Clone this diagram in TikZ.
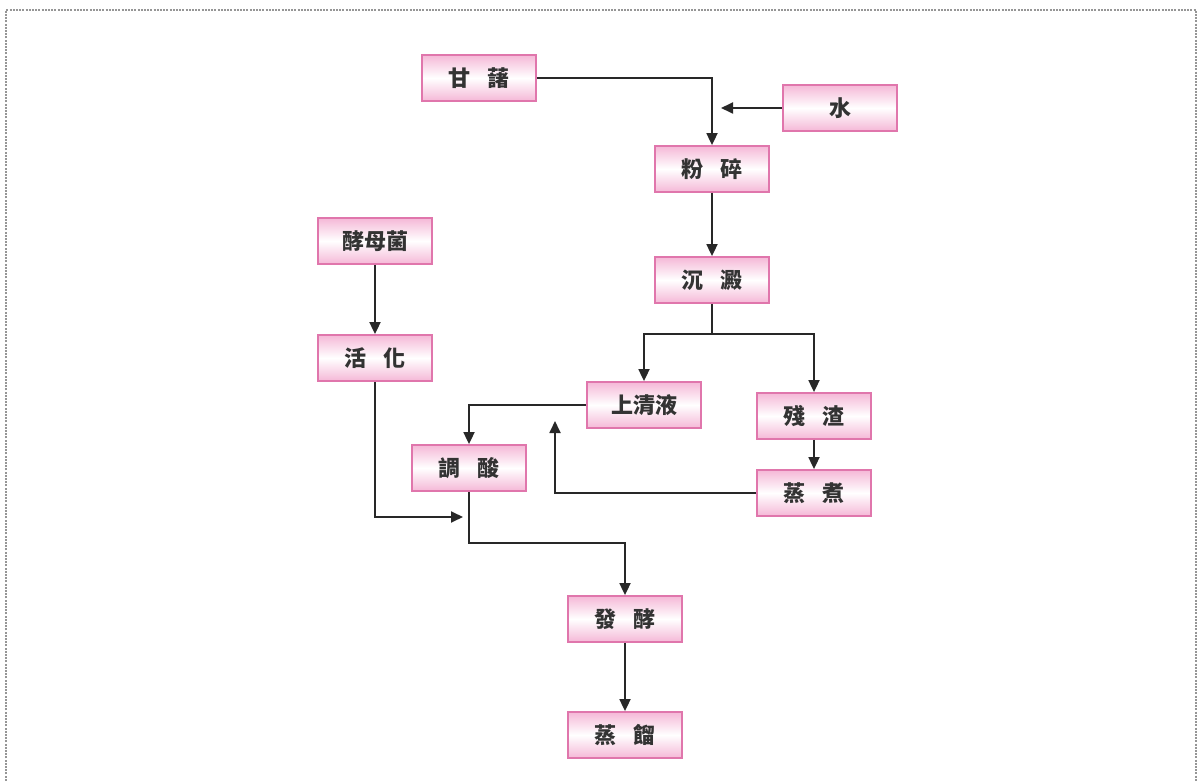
\documentclass[tikz,border=0pt]{standalone}
\usepackage{fontspec}
\newfontfamily\cjk{Noto Sans CJK TC}
\usetikzlibrary{arrows.meta}
\definecolor{boxedge}{RGB}{224,118,172}
\definecolor{boxpink}{RGB}{245,184,215}
\definecolor{linecol}{RGB}{40,40,40}
\definecolor{framecol}{RGB}{150,150,150}
\tikzset{
  procbox/.style={draw=boxedge, line width=1.8pt, top color=boxpink, bottom color=boxpink, middle color=white,
    minimum width=114pt, minimum height=46pt, inner sep=0pt, font=\cjk\bfseries\fontsize{22}{24}\selectfont, text=black!80},
  conn/.style={draw=linecol, line width=1.8pt, -{Triangle[length=12pt,width=11pt]}},
  plain/.style={draw=linecol, line width=1.8pt},
}
\begin{document}
\begin{tikzpicture}[x=1pt,y=-1pt]
\useasboundingbox (0,0) rectangle (1203,781);
\fill[white] (0,0) rectangle (1203,781);
\draw[framecol, line width=1.8pt, dash pattern=on 2pt off 1.2pt] (6,800) -- (6,10) -- (1196,10) -- (1196,800);

\node[procbox] (gs) at (479,78) {甘\hspace{0.8em}藷};
\node[procbox] (water) at (840,108) {水};
\node[procbox] (fs) at (712,169) {粉\hspace{0.8em}碎};
\node[procbox] (cd) at (712,280) {沉\hspace{0.8em}澱};
\node[procbox] (jm) at (375,241) {酵母菌};
\node[procbox] (hh) at (375,358) {活\hspace{0.8em}化};
\node[procbox] (sq) at (644,405) {上清液};
\node[procbox] (cz) at (814,416) {殘\hspace{0.8em}渣};
\node[procbox] (tj) at (469,468) {調\hspace{0.8em}酸};
\node[procbox] (zz) at (814,493) {蒸\hspace{0.8em}煮};
\node[procbox] (fj) at (625,619) {發\hspace{0.8em}酵};
\node[procbox] (zl) at (625,735) {蒸\hspace{0.8em}餾};

\coordinate (wend) at (721,108);
\coordinate (split) at (712,334);
\coordinate (upend) at (555,421);
\coordinate (hhend) at (463,517);
\coordinate (tjturn) at (469,543);

\draw[conn] (gs.east) -| (fs.north);
\draw[conn] (water.west) -- (wend);
\draw[conn] (fs.south) -- (cd.north);
\draw[plain] (cd.south) -- (split);
\draw[conn] (split) -| (sq.north);
\draw[conn] (split) -| (cz.north);
\draw[conn] (sq.west) -| (tj.north);
\draw[conn] (cz.south) -- (zz.north);
\draw[conn] (zz.west) -| (upend);
\draw[conn] (jm.south) -- (hh.north);
\draw[conn] (hh.south) |- (hhend);
\draw[conn] (tj.south) -- (tjturn) -| (fj.north);
\draw[conn] (fj.south) -- (zl.north);
\end{tikzpicture}
\end{document}
